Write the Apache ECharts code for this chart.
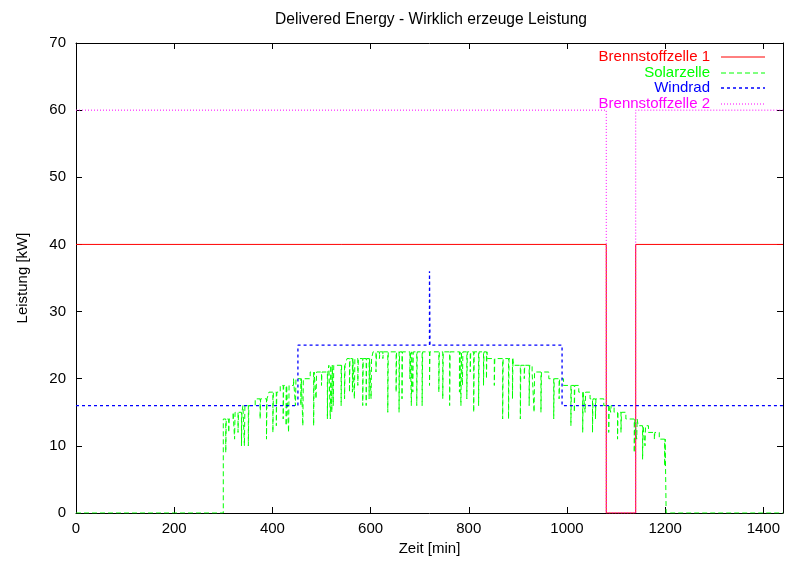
<!DOCTYPE html>
<html>
<head>
<meta charset="utf-8">
<script src="https://cdn.jsdelivr.net/npm/echarts@6/dist/echarts.min.js"></script>
<style>
  html, body { margin: 0; padding: 0; background: #fff; }
  #chart { width: 789px; height: 565px; }
</style>
</head>
<body>
<div id="chart"></div>
<script>
// Fuel cell 1 output [min, kW]
const fuelCell1Minute = [0, 1080, 1140, 1440];
const fuelCell1KW     = [40, 0, 40, 40];

// Fuel cell 2 output [min, kW]
const fuelCell2Minute = [0, 1080, 1140, 1440];
const fuelCell2KW     = [60, 0, 60, 60];

// Wind turbine output [min, kW]
const windMinute = [0, 452, 720, 721, 990, 1440];
const windKW     = [16, 25, 36, 25, 16, 16];

// Solar output: base level changes [min, kW]
const solarStepMinute = [0, 300, 320, 340, 365, 393, 416, 443, 477, 515, 552, 605, 838, 891, 929, 963, 993, 1024, 1047, 1075, 1096, 1120, 1145, 1166, 1188, 1202, 1440];
const solarStepKW     = [0, 14, 15, 16, 17, 18, 19, 20, 21, 22, 23, 24, 23, 22, 21, 20, 19, 18, 17, 16, 15, 14, 13, 12, 11, 0, 0];

// Solar output: short drops (cloud shadows) [min, kW]
const solarDipMinute = [305, 311, 323, 330, 337, 343, 351, 375, 388, 401, 408, 422, 428, 433,
  447, 458, 462, 484, 489, 500, 512, 518, 521, 524, 540, 547,
  557, 563, 567, 574, 584, 591, 597, 601,
  611, 618, 625, 635, 652, 658, 664, 680, 683, 686, 694, 705, 720, 739, 747,
  761, 781, 784, 787, 796, 803, 810, 820, 830, 836,
  852, 869, 881, 889, 905, 913, 923, 933, 947, 973, 984,
  1008, 1015, 1032, 1037, 1052, 1058, 1085, 1089, 1103, 1110, 1137, 1142, 1154, 1159, 1178, 1199];
const solarDipKW = [9, 12, 11, 12, 10, 10, 10, 14, 11, 12, 13, 14, 13, 12,
  16, 16, 13, 13, 17, 19, 14, 14, 15, 16, 16, 17,
  18, 18, 17, 19, 16, 16, 17, 17,
  21, 23, 23, 15, 18, 15, 17, 20, 16, 18, 16, 16, 19, 18, 17,
  16, 18, 16, 19, 17, 21, 15, 16, 19, 20,
  19, 14, 14, 17, 14, 20, 16, 15, 15, 14, 17,
  13, 15, 12, 15, 12, 14, 12, 15, 11, 12, 9, 11, 8, 10, 11, 7];

const xTickStep = 200;
const yTickStep = 10;

function pairs(xs, ys) { return xs.map((x, i) => [x, ys[i]]); }

function solarLevelAt(t) {
  let v = 0;
  for (let i = 0; i < solarStepMinute.length; i++) {
    if (solarStepMinute[i] <= t) v = solarStepKW[i];
  }
  return v;
}

// Combine base levels and drops into one step path (each drop lasts one minute)
const solarPoints = pairs(solarStepMinute, solarStepKW);
solarDipMinute.forEach((m, i) => {
  solarPoints.push([m, solarDipKW[i]]);
  solarPoints.push([m + 1, solarLevelAt(m)]);
});
solarPoints.sort((a, b) => a[0] - b[0]);

const FONT = 'Liberation Sans';
const FS = 15;

const names = ['Brennstoffzelle 1', 'Solarzelle', 'Windrad', 'Brennstoffzelle 2'];
const colors = ['#ff0000', '#00ff00', '#0000ff', '#ff00ff'];
const dashes = [null, [5, 3], [3, 3], [1, 2]];
const widths = [1, 1, 1.3, 1];

// Key box (top right, inside the frame): text right-aligned, line sample to its right
const keyTextRight = 710;
const keyLineX = [721, 765];
const keyRowY = [57, 73, 88, 104];

const chart = echarts.init(document.getElementById('chart'), null, { renderer: 'canvas' });

function axisCommon(showLabel) {
  return {
    axisLine: { show: true, onZero: false, lineStyle: { color: '#000', width: 1 } },
    axisTick: { show: true, inside: true, length: 6, lineStyle: { color: '#000', width: 1 } },
    splitLine: { show: false },
    axisLabel: {
      show: showLabel, color: '#000', fontFamily: FONT, fontSize: FS,
      showMaxLabel: false,
      formatter: v => String(v)
    }
  };
}

const seriesData = [
  pairs(fuelCell1Minute, fuelCell1KW),
  solarPoints,
  pairs(windMinute, windKW),
  pairs(fuelCell2Minute, fuelCell2KW)
];

const keyGraphics = [];
names.forEach((n, i) => {
  keyGraphics.push({
    type: 'text', silent: true, z: 100,
    x: keyTextRight, y: keyRowY[i],
    style: { text: n, fill: colors[i], font: FS + 'px "' + FONT + '"', align: 'right', verticalAlign: 'middle' }
  });
  keyGraphics.push({
    type: 'line', silent: true, z: 100,
    shape: { x1: keyLineX[0], y1: keyRowY[i], x2: keyLineX[1], y2: keyRowY[i] },
    style: { stroke: colors[i], lineWidth: widths[i], lineDash: dashes[i] }
  });
});

const option = {
  animation: false,
  backgroundColor: '#fff',
  title: {
    text: 'Delivered Energy - Wirklich erzeuge Leistung',
    left: 426,
    top: 7,
    textAlign: 'center',
    textStyle: { fontFamily: FONT, fontSize: 15.6, fontWeight: 'normal', color: '#000' }
  },
  graphic: keyGraphics,
  grid: { left: 76, right: 6, top: 43, bottom: 52, containLabel: false },
  xAxis: [
    Object.assign(axisCommon(true), {
      type: 'value', position: 'bottom', min: 0, max: 1440, interval: xTickStep,
      name: 'Zeit [min]', nameLocation: 'middle', nameGap: 28,
      nameTextStyle: { fontFamily: FONT, fontSize: FS, color: '#000' }
    }),
    Object.assign(axisCommon(false), {
      type: 'value', position: 'top', min: 0, max: 1440, interval: xTickStep
    })
  ],
  yAxis: [
    Object.assign(axisCommon(true), {
      type: 'value', position: 'left', min: 0, max: 70, interval: yTickStep,
      name: 'Leistung [kW]', nameLocation: 'middle', nameGap: 46,
      nameTextStyle: { fontFamily: FONT, fontSize: FS, color: '#000' }
    }),
    Object.assign(axisCommon(false), {
      type: 'value', position: 'right', min: 0, max: 70, interval: yTickStep
    })
  ],
  series: names.map((n, i) => ({
    name: n,
    type: 'line',
    step: 'end',
    xAxisIndex: 0,
    yAxisIndex: 0,
    data: seriesData[i],
    symbol: 'none',
    showSymbol: false,
    silent: true,
    color: colors[i],
    lineStyle: { color: colors[i], width: widths[i], type: dashes[i] || 'solid' },
    emphasis: { disabled: true }
  }))
};
option.xAxis[0].axisLabel.margin = 8;
option.yAxis[0].axisLabel.margin = 10;
option.yAxis[0].axisLabel.showMaxLabel = true;

chart.setOption(option);
</script>
</body>
</html>
